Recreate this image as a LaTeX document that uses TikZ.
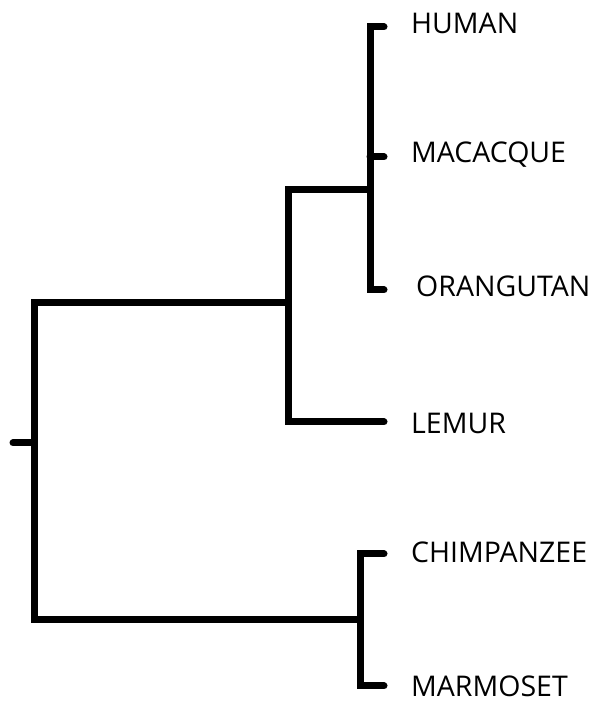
\documentclass[tikz,border=0pt]{standalone}
\usepackage{fontspec}
\setmainfont{Open Sans}
\begin{document}
\begin{tikzpicture}[x=1pt,y=1pt,
  branch/.style={line width=7pt,line cap=round,line join=miter,black},
  leaf/.style={anchor=base west,inner sep=0pt,font=\fontsize{28.5}{28.5}\selectfont}]
\useasboundingbox (0,0) rectangle (600,705);
% internal coordinates
\coordinate (stub) at (13,262);
\coordinate (root) at (34,262);
\coordinate (rtop) at (34,402);
\coordinate (rbot) at (34,85);
\coordinate (c2) at (288,402);
\coordinate (c2top) at (288,515);
\coordinate (c2bot) at (288,283);
\coordinate (c3) at (370,515);
\coordinate (c3top) at (370,678);
\coordinate (c3mid) at (370,548);
\coordinate (c3bot) at (370,415);
\coordinate (c4) at (360,85);
\coordinate (c4top) at (360,151);
\coordinate (c4bot) at (360,19);
% tips
\coordinate (tHuman) at (384,678);
\coordinate (tMacacque) at (384,548);
\coordinate (tOrang) at (384,415);
\coordinate (tLemur) at (384,283);
\coordinate (tChimp) at (384,151);
\coordinate (tMarmo) at (384,19);
% labels
\node[leaf] (human) at (411,671) {HUMAN};
\node[leaf] (macacque) at (411,542) {MACACQUE};
\node[leaf] (orangutan) at (416,408) {ORANGUTAN};
\node[leaf] (lemur) at (411,271) {LEMUR};
\node[leaf] (chimp) at (411,142) {CHIMPANZEE};
\node[leaf] (marmoset) at (411,9) {MARMOSET};
% branches
\draw[branch] (stub) -- (root);
\draw[branch] (c2) -- (rtop) -- (rbot) -- (c4);
\draw[branch] (c3) -- (c2top) -- (c2bot) -- (tLemur);
\draw[branch] (tHuman) -- (c3top) -- (c3bot) -- (tOrang);
\draw[branch] (c3mid) -- (tMacacque);
\draw[branch] (tChimp) -- (c4top) -- (c4bot) -- (tMarmo);
\end{tikzpicture}
\end{document}
